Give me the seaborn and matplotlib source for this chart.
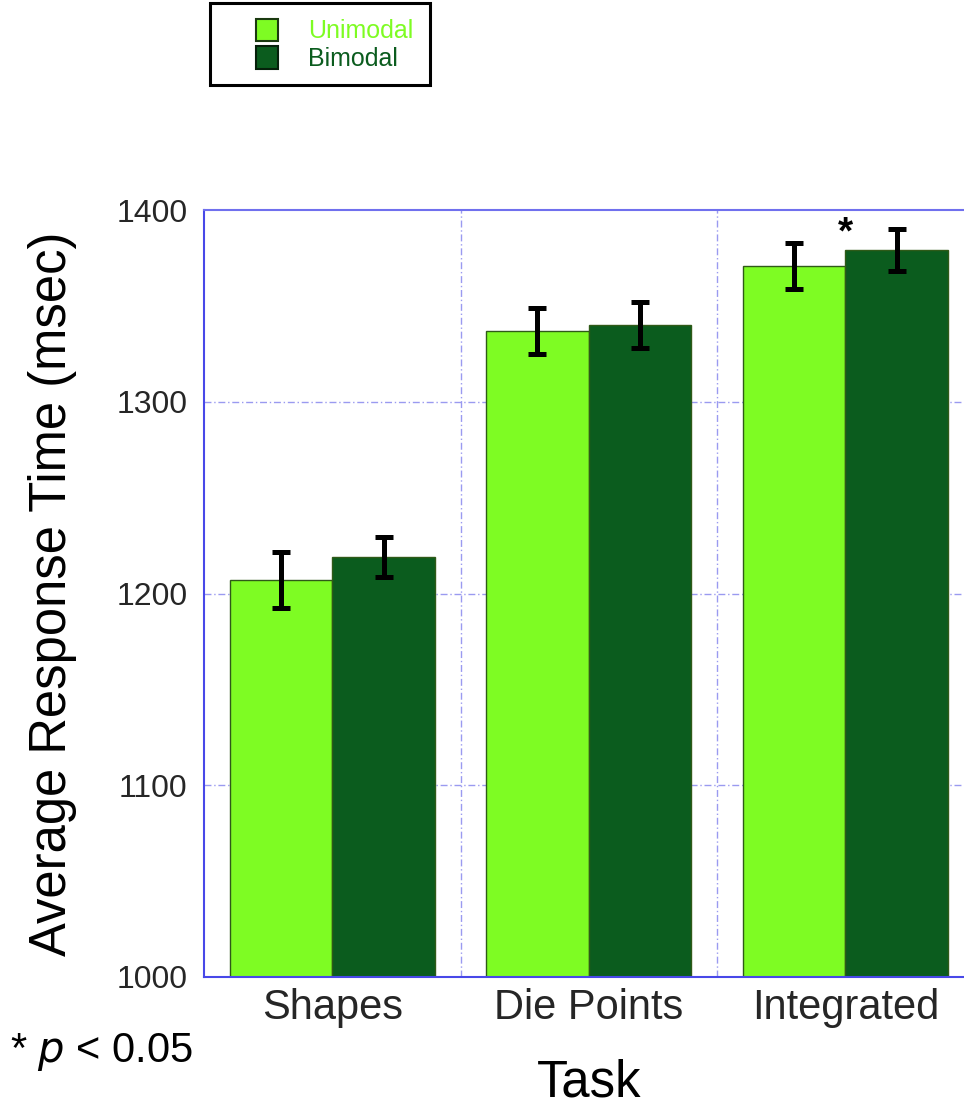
import matplotlib
matplotlib.use("Agg")
import matplotlib.pyplot as plt
import seaborn as sns
import pandas as pd
import numpy as np
from matplotlib.patches import Patch, Rectangle

# Mean response times (msec) and their error margins
tasks = ["Shapes", "Die Points", "Integrated"]
unimodal = [1207, 1337, 1371]
bimodal = [1219, 1340, 1379]
unimodal_err = [14.5, 12, 12]
bimodal_err = [10.5, 12, 11]
conditions = ["Unimodal", "Bimodal"]
y_ticks = [1000, 1100, 1200, 1300, 1400]

light_green = "#7efc23"
dark_green = "#0b5c1e"
axis_blue = "#4848e8"
grid_blue = "#9a9af0"

sns.set_theme(style="white")
plt.rcParams["font.family"] = ["Liberation Sans", "DejaVu Sans"]

df = pd.DataFrame({
    "Task": tasks * 2,
    "Condition": [conditions[0]] * 3 + [conditions[1]] * 3,
    "RT": unimodal + bimodal,
    "Err": unimodal_err + bimodal_err,
})

fig = plt.figure(figsize=(9.64, 11.07), dpi=100)
ax = fig.add_axes([204 / 964, 130 / 1107, 769.5 / 964, 767 / 1107])

sns.barplot(data=df, x="Task", y="RT", hue="Condition", order=tasks,
            hue_order=conditions, palette=[light_green, dark_green],
            width=0.8, errorbar=None, legend=False, ax=ax,
            edgecolor="#2f5a18", linewidth=1.0, saturation=1)

# Error bars centred on each bar
for cont, cond in zip(ax.containers, conditions):
    sub = df[df["Condition"] == cond].set_index("Task").loc[tasks]
    xs = [b.get_x() + b.get_width() / 2 for b in cont]
    ax.errorbar(xs, sub["RT"].values, yerr=sub["Err"].values, fmt="none",
                ecolor="black", elinewidth=3.6, capsize=6.5, capthick=3.6,
                zorder=5)

ax.set_ylim(1000, 1400)
ax.set_xlim(-0.5, 2.5)
ax.set_yticks(y_ticks)
ax.set_yticklabels([str(v) for v in y_ticks], fontsize=23)
ax.tick_params(axis="y", length=0, pad=12)
ax.tick_params(axis="x", length=0, pad=8, labelsize=30)

# Dashed grid at the category boundaries and inner y ticks
for yv in y_ticks[1:-1]:
    ax.axhline(yv, color=grid_blue, lw=1.0, ls=(0, (5, 2, 1, 2)), zorder=0)
for xv in [0.5, 1.5]:
    ax.axvline(xv, color=grid_blue, lw=1.0, ls=(0, (5, 2, 1, 2)), zorder=0)

for side in ["left", "bottom", "top"]:
    ax.spines[side].set_color(axis_blue)
    ax.spines[side].set_linewidth(1.5)
ax.spines["top"].set_linestyle((0, (6, 1)))
ax.spines["top"].set_color("#7070ee")
ax.spines["right"].set_visible(False)

ax.set_xlabel("Task", fontsize=36.5, labelpad=22, color="black")
ax.set_ylabel("Average Response Time (msec)", fontsize=36.5, labelpad=28,
              color="black")

# Significance marker on the Integrated task
ax.text(2.0, 1388, "*", ha="center", va="center", fontsize=28,
        fontweight="bold", color="black")

fig.text(10 / 964, 1 - 1052 / 1107, "* $\\it{p}$ < 0.05", fontsize=30,
         ha="left", va="center", color="black")

# Legend box
fig.patches.append(Rectangle((210 / 964, 1 - 85 / 1107), 220 / 964, 82 / 1107,
                             transform=fig.transFigure, fill=False,
                             edgecolor="black", linewidth=2.2))
handles = [Patch(facecolor=light_green, edgecolor="#1a3a10", linewidth=1.5),
           Patch(facecolor=dark_green, edgecolor="#05200a", linewidth=1.5)]
leg = fig.legend(handles, conditions, loc="upper left",
                 bbox_to_anchor=(238 / 964, 1 - 1 / 1107), frameon=False,
                 fontsize=18, handlelength=0.9, handleheight=1.0,
                 handletextpad=1.2, labelspacing=0.12, borderpad=0.2)
for txt, col in zip(leg.get_texts(), [light_green, dark_green]):
    txt.set_color(col)

fig.savefig("out.png", dpi=100)
